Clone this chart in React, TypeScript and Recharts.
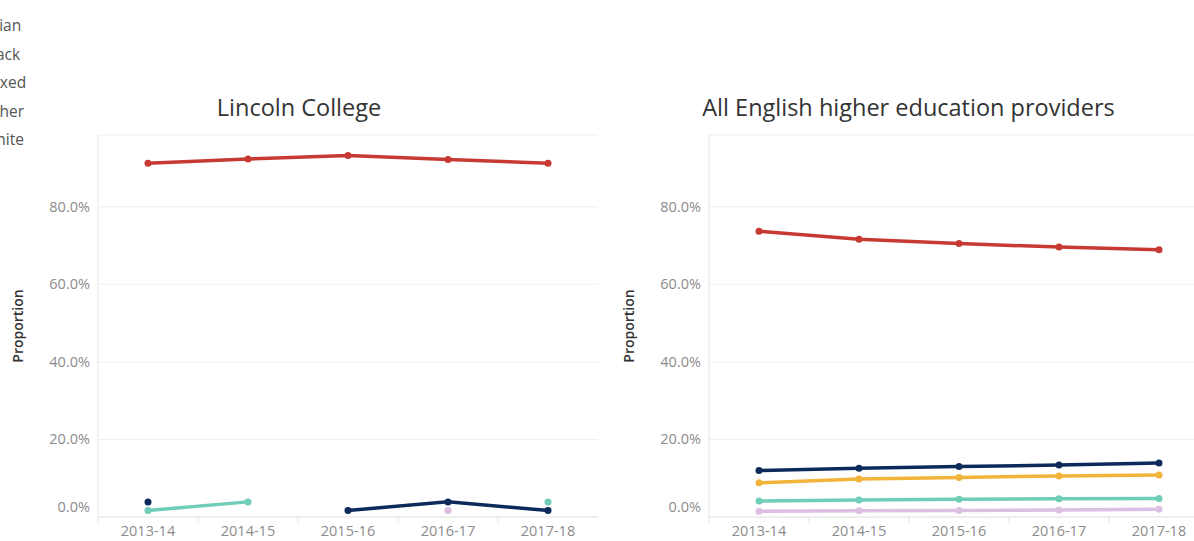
import React from 'react';
import { LineChart, Line, XAxis, YAxis, CartesianGrid } from 'recharts';

const years = ['2013-14', '2014-15', '2015-16', '2016-17', '2017-18'];
const groups = ['Asian', 'Black', 'Mixed', 'Other', 'White'];

const groupColors: Record<string, string> = {
  Asian: '#0c2b5b',
  Black: '#f2b43a',
  Mixed: '#6fcdb8',
  Other: '#ddbfe3',
  White: '#c63a33',
};

// Lincoln College (gaps = no data for that year)
const lincolnAsian = [0.039, null, 0.017, 0.039, 0.017];
const lincolnBlack = [null, null, null, null, null];
const lincolnMixed = [0.017, 0.039, null, null, 0.039];
const lincolnOther = [null, null, null, 0.017, null];
const lincolnWhite = [0.912, 0.923, 0.932, 0.922, 0.912];

// All English higher education providers
const englandAsian = [0.12, 0.126, 0.13, 0.134, 0.139];
const englandBlack = [0.088, 0.098, 0.102, 0.106, 0.108];
const englandMixed = [0.041, 0.044, 0.046, 0.047, 0.048];
const englandOther = [0.015, 0.016, 0.017, 0.018, 0.02];
const englandWhite = [0.737, 0.716, 0.705, 0.696, 0.689];

const yTicks = [0, 0.2, 0.4, 0.6, 0.8];

const toRows = (asian: any[], black: any[], mixed: any[], other: any[], white: any[]) =>
  years.map((year, i) => ({
    year,
    Asian: asian[i],
    Black: black[i],
    Mixed: mixed[i],
    Other: other[i],
    White: white[i],
  }));

const lincolnRows = toRows(lincolnAsian, lincolnBlack, lincolnMixed, lincolnOther, lincolnWhite);
const englandRows = toRows(englandAsian, englandBlack, englandMixed, englandOther, englandWhite);

const FONT = '"Open Sans", sans-serif';

const YTick = (props: any) => {
  const { x, y, payload } = props;
  // bottom label sits a bit higher, like the original
  const lift = payload.value === 0 ? -10 : 0;
  return (
    <text x={x} y={y + lift} dy={5} textAnchor="end" fill="#8c8c8c" fontSize={14.5} fontFamily={FONT}>
      {(payload.value * 100).toFixed(1)}%
    </text>
  );
};

const XTick = (props: any) => {
  const { x, y, payload } = props;
  return (
    <g>
      <line x1={x - 50} x2={x - 50} y1={y} y2={y + 6} stroke="#e4e4e4" />
      <text x={x} y={y} dy={19} textAnchor="middle" fill="#8c8c8c" fontSize={14.5} fontFamily={FONT}>
        {payload.value}
      </text>
    </g>
  );
};

const ProportionLabel = (props: any) => {
  const vb = props.viewBox || {};
  const x = vb.x + vb.width - 80;
  const y = vb.y + vb.height / 2;
  return (
    <text
      x={x}
      y={y}
      transform={`rotate(-90 ${x} ${y})`}
      textAnchor="middle"
      dy={5}
      fill="#333"
      fontSize={14}
      fontWeight={600}
      fontFamily={FONT}
    >
      Proportion
    </text>
  );
};

const Panel = ({ rows, width, axisWidth, right }: any) => (
  <LineChart width={width} height={541} data={rows} margin={{ top: 135, right, bottom: 0, left: 0 }}>
    <CartesianGrid vertical={false} stroke="#efefef" />
    <XAxis
      dataKey="year"
      height={24}
      padding={{ left: 50, right: 50 }}
      axisLine={{ stroke: '#e6e6e6' }}
      tickLine={false}
      tickSize={0}
      tickMargin={0}
      tick={<XTick />}
      interval={0}
    />
    <YAxis
      width={axisWidth}
      domain={[0, 0.985]}
      ticks={yTicks}
      axisLine={{ stroke: '#e6e6e6' }}
      tickLine={false}
      tickSize={0}
      tickMargin={8}
      tick={<YTick />}
      label={(p: any) => <ProportionLabel {...p} />}
    />
    {groups.map((g) => (
      <Line
        key={g}
        dataKey={g}
        stroke={groupColors[g]}
        strokeWidth={3.5}
        dot={{ r: 3.5, fill: groupColors[g], stroke: groupColors[g], strokeWidth: 0 }}
        activeDot={false}
        type="linear"
        isAnimationActive={false}
      />
    ))}
  </LineChart>
);

const titleStyle: React.CSSProperties = {
  position: 'absolute',
  top: 92,
  textAlign: 'center',
  fontSize: 23.5,
  lineHeight: '30px',
  color: '#333',
  fontFamily: FONT,
};

export default function App() {
  return (
    <div
      style={{
        position: 'absolute',
        left: 0,
        top: 0,
        width: 1194,
        height: 541,
        overflow: 'hidden',
        background: '#fff',
        fontFamily: FONT,
      }}
    >
      {/* legend, cut off at the left edge of the view */}
      {groups.map((g, i) => (
        <div
          key={g}
          style={{
            position: 'absolute',
            left: -40,
            top: 14 + i * 28.5,
            fontSize: 15.5,
            lineHeight: '22px',
            color: '#555',
            whiteSpace: 'nowrap',
          }}
        >
          <span
            style={{
              display: 'inline-block',
              width: 10,
              height: 10,
              borderRadius: 5,
              background: groupColors[g],
              marginRight: 8,
              marginLeft: 4,
            }}
          />
          {g}
        </div>
      ))}

      <div style={{ ...titleStyle, left: 0, width: 598 }}>Lincoln College</div>
      <div style={{ ...titleStyle, left: 600, width: 617 }}>All English higher education providers</div>

      <div style={{ position: 'absolute', left: 0, top: 0 }}>
        <Panel rows={lincolnRows} width={600} axisWidth={98} right={2} />
      </div>
      <div style={{ position: 'absolute', left: 600, top: 0 }}>
        <Panel rows={englandRows} width={620} axisWidth={109} right={11} />
      </div>
    </div>
  );
}
